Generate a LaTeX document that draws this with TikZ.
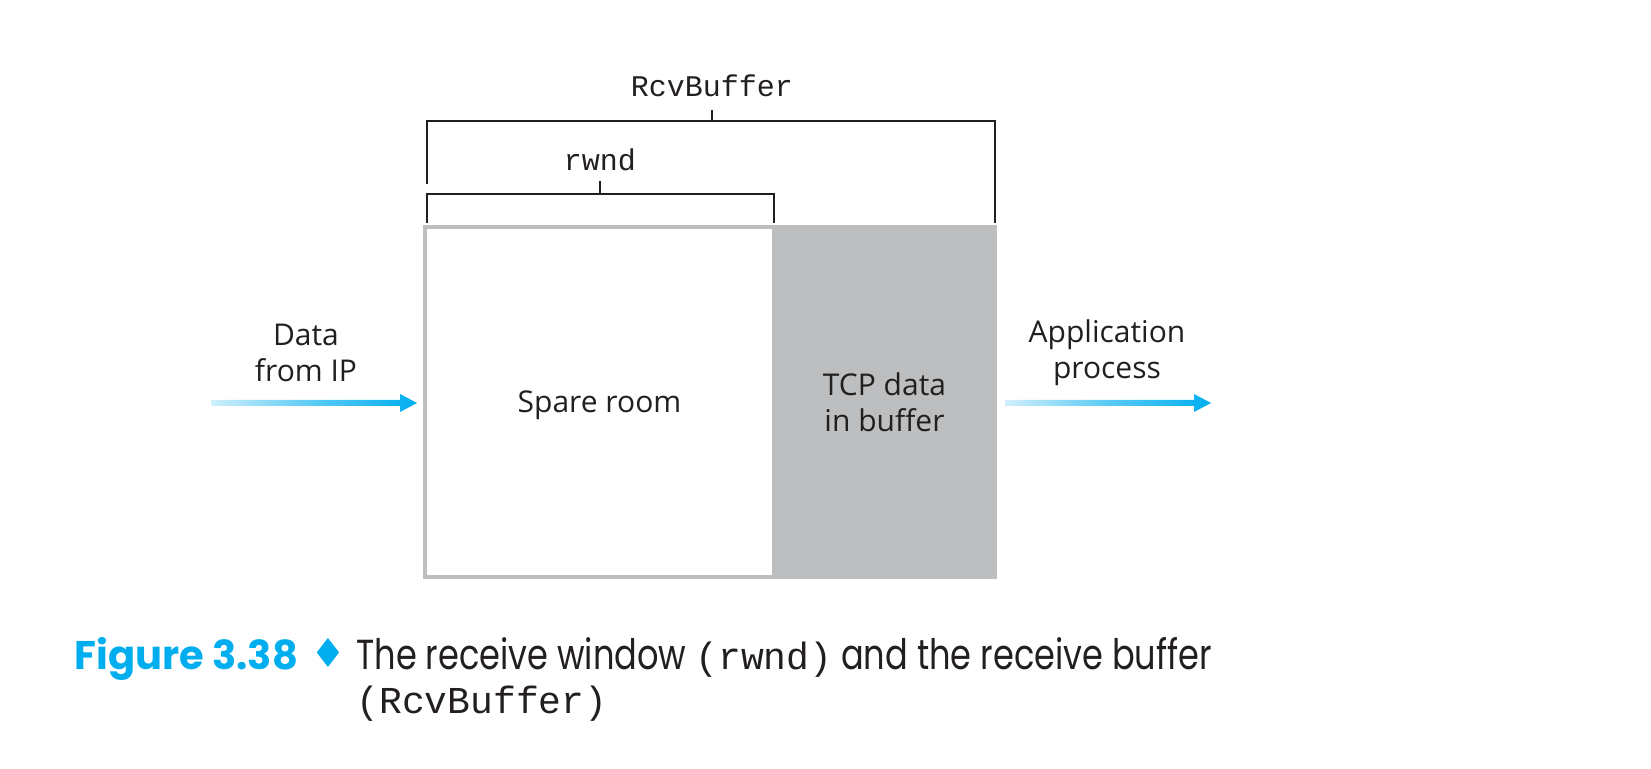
\documentclass[tikz,border=0pt]{standalone}
\usepackage{fontspec}
\setmainfont{Open Sans}
\setmonofont{Liberation Mono}
\newfontfamily\figfont{Poppins}
\newfontfamily\capfont[FakeStretch=0.8]{Poppins}
\newfontfamily\symfont{DejaVu Sans}
\usetikzlibrary{calc}
\definecolor{netcyan}{HTML}{00AEEF}
\definecolor{netcyanlight}{HTML}{D0EFFB}
\definecolor{bufgray}{HTML}{BCBEC0}
\definecolor{inkdark}{HTML}{231F20}

% gradient arrow from #1 to #2 (tip)
\newcommand{\flowarrow}[2]{%
  \shade[left color=netcyanlight, right color=netcyan, middle color=netcyan!65!white]
    ($(#1)+(0,-3)$) -- ($(#2)+(-17,-3)$) -- ($(#2)+(-17,-9)$) -- (#2)
    -- ($(#2)+(-17,9)$) -- ($(#2)+(-17,3)$) -- ($(#1)+(0,3)$) -- cycle;}

\begin{document}
\begin{tikzpicture}[x=0.5pt,y=-0.5pt,
	lbl/.style={font=\fontsize{15}{18}\selectfont, text=inkdark, align=center},
	mono/.style={font=\ttfamily\fontsize{15}{18}\selectfont, text=inkdark, inner sep=0pt},
	buf/.style={lbl, draw=bufgray, line width=2pt, minimum height=175pt, inner sep=0pt, text depth=0pt},
	bracket/.style={draw=inkdark, line width=0.75pt}]
	\useasboundingbox (0,0) rectangle (1651,769);

	% the buffer
	\node[buf, fill=white, minimum width=174.5pt] (spare) at (599.5,402) {Spare room};
	\node[buf, fill=bufgray, minimum width=110.5pt] (tcpdata) at (884.5,402) {TCP data\\in buffer};

	% brackets
	\node[mono, anchor=base] (rcvbuf) at (712,97) {RcvBuffer};
	\node[mono, anchor=base] (rwnd) at (600,171) {rwnd};
	\coordinate (rcvL) at (427,184);
	\coordinate (rcvR) at (995,223);
	\coordinate (rwL) at (427,223);
	\coordinate (rwR) at (774,223);
	\draw[bracket] (rcvL) -- ++(0,-63) -| (rcvR);
	\draw[bracket] (rcvbuf.base) ++(0,13) -- ++(0,11);
	\draw[bracket] (rwL) -- ++(0,-29) -| (rwR);
	\draw[bracket] (rwnd.base) ++(0,10) -- ++(0,13);

	% data in and out
	\coordinate (inS) at (211,403);
	\coordinate (inE) at (417,403);
	\coordinate (outS) at (1005,403);
	\coordinate (outE) at (1211,403);
	\flowarrow{inS}{inE}
	\flowarrow{outS}{outE}
	\node[lbl] (fromip) at (306,353) {Data\\from IP};
	\node[lbl] (app) at (1107,353) {Application\\process};

	% caption
	\node[anchor=base west, inner sep=0pt, text=netcyan, font=\figfont\bfseries\fontsize{20}{25}\selectfont] (fignum) at (74,670) {Figure 3.38};
	\node[anchor=base, inner sep=0pt, text=netcyan, font=\symfont\fontsize{20}{24}\selectfont] (figsep) at (328,668) {♦};
	\node[anchor=base west, inner sep=0pt, text=inkdark, font=\capfont\fontsize{21}{25}\selectfont] (figcap) at (356,670) {The receive window {\ttfamily\fontsize{19}{25}\selectfont (rwnd)} and the receive buffer};
	\node[anchor=base west, inner sep=0pt, text=inkdark, font=\ttfamily\fontsize{19}{25}\selectfont] (figcapb) at (356,714) {(RcvBuffer)};
\end{tikzpicture}
\end{document}
